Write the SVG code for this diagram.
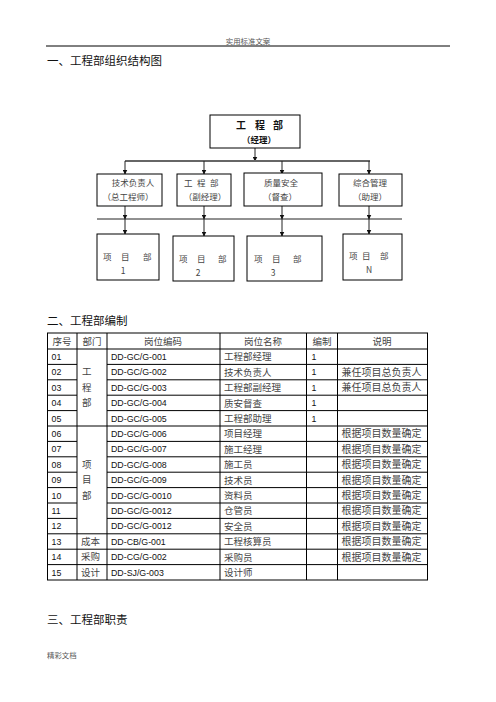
<svg xmlns="http://www.w3.org/2000/svg" width="496" height="702" viewBox="0 0 496 702">
<defs>
<style>
.cn{font-family:"Noto Sans CJK SC","Noto Sans",sans-serif;}
.hd{font-size:11.5px;fill:#111;}
.sm{font-size:7.4px;fill:#555;}
.box{fill:#fff;stroke:#000;stroke-width:1;}
.ob{font-size:8.5px;fill:#444;}
.tb{font-size:9.5px;fill:#444;}
.num{font-family:"Liberation Sans",Arial,sans-serif;font-size:8.8px;fill:#111;}
.con line{stroke:#222;stroke-width:1;}
.tl{stroke:#000;stroke-width:1;fill:none;}
</style>
<marker id="ar" viewBox="0 0 10 10" refX="9" refY="5" markerWidth="5" markerHeight="5" orient="auto">
<path d="M0,0 L10,5 L0,10 z" fill="#111"/>
</marker>
</defs>
<rect width="496" height="702" fill="#fff"/>

<g id="page-header">
<text class="cn sm" x="248" y="43.5" text-anchor="middle">实用标准文案</text>
<line x1="46" y1="46" x2="450" y2="46" stroke="#000" stroke-width="1"/>
<text class="cn hd" x="47" y="64.5">一、工程部组织结构图</text>
</g>

<g id="connectors" class="con">
<line x1="255" y1="148" x2="255" y2="161" marker-end="url(#ar)"/>
<line x1="125" y1="161" x2="370" y2="161" style="stroke:#666;stroke-width:2"/>
<line x1="125" y1="161" x2="125" y2="174" marker-end="url(#ar)"/>
<line x1="204" y1="161" x2="204" y2="174" marker-end="url(#ar)"/>
<line x1="282" y1="161" x2="282" y2="174" marker-end="url(#ar)"/>
<line x1="369" y1="161" x2="369" y2="174" marker-end="url(#ar)"/>
<line x1="97" y1="219" x2="402" y2="219"/>
<line x1="125" y1="206" x2="125" y2="219" marker-end="url(#ar)"/>
<line x1="204" y1="206" x2="204" y2="219" marker-end="url(#ar)"/>
<line x1="282" y1="206" x2="282" y2="219" marker-end="url(#ar)"/>
<line x1="369" y1="206" x2="369" y2="219" marker-end="url(#ar)"/>
<line x1="125" y1="219" x2="125" y2="234" marker-end="url(#ar)"/>
<line x1="204" y1="219" x2="204" y2="236" marker-end="url(#ar)"/>
<line x1="282" y1="219" x2="282" y2="236" marker-end="url(#ar)"/>
<line x1="369" y1="219" x2="369" y2="234" marker-end="url(#ar)"/>
</g>

<g id="node-top">
<rect class="box" x="210" y="115" width="90" height="33"/>
<text class="cn" font-size="10" font-weight="bold" fill="#111" x="236 255 273" y="129">工程部</text>
<text class="cn" font-size="8.5" font-weight="bold" fill="#111" x="259" y="142.5" text-anchor="middle">（经理）</text>
</g>

<g id="node-tech">
<rect class="box" x="97" y="174" width="65" height="32"/>
<text class="cn ob" x="133" y="186" text-anchor="middle">技术负责人</text>
<text class="cn ob" x="128" y="200" text-anchor="middle">（总工程师）</text>
</g>
<g id="node-vice">
<rect class="box" x="177" y="174" width="54" height="32"/>
<text class="cn ob" x="184 197 210" y="186">工程部</text>
<text class="cn ob" x="205" y="200" text-anchor="middle">（副经理）</text>
</g>
<g id="node-quality">
<rect class="box" x="244" y="173" width="78" height="33"/>
<text class="cn ob" x="281" y="185.5" text-anchor="middle">质量安全</text>
<text class="cn ob" x="280" y="199.5" text-anchor="middle">（督查）</text>
</g>
<g id="node-admin">
<rect class="box" x="339" y="174" width="63" height="32"/>
<text class="cn ob" x="370" y="186" text-anchor="middle">综合管理</text>
<text class="cn ob" x="370" y="200" text-anchor="middle">（助理）</text>
</g>

<g id="node-proj1">
<rect class="box" x="97" y="234" width="62" height="46"/>
<text class="cn ob" x="103 121 143" y="260">项目部</text>
<text class="cn ob" x="123" y="274" text-anchor="middle">1</text>
</g>
<g id="node-proj2">
<rect class="box" x="173" y="236" width="61" height="45"/>
<text class="cn ob" x="179 197 218" y="262">项目部</text>
<text class="cn ob" x="198" y="275.5" text-anchor="middle">2</text>
</g>
<g id="node-proj3">
<rect class="box" x="247" y="236" width="75" height="45"/>
<text class="cn ob" x="254 272 293" y="262">项目部</text>
<text class="cn ob" x="273" y="275.5" text-anchor="middle">3</text>
</g>
<g id="node-projN">
<rect class="box" x="343" y="234" width="59" height="46"/>
<text class="cn ob" x="349 362 380" y="259">项目部</text>
<text class="cn ob" x="369" y="273" text-anchor="middle">N</text>
</g>

<g id="section2">
<text class="cn hd" x="47" y="325">二、工程部编制</text>
</g>

<g id="table">
<rect class="tl" x="47.5" y="333" width="380" height="247"/>
<line class="tl" x1="77" y1="333" x2="77" y2="580"/>
<line class="tl" x1="107" y1="333" x2="107" y2="580"/>
<line class="tl" x1="220" y1="333" x2="220" y2="580"/>
<line class="tl" x1="306.5" y1="333" x2="306.5" y2="580"/>
<line class="tl" x1="337.5" y1="333" x2="337.5" y2="580"/>
<line class="tl" x1="47.5" y1="349" x2="427.5" y2="349"/>
<path class="tl" d="M47.5 364.4H77M107 364.4H427.5M47.5 379.8H77M107 379.8H427.5M47.5 395.2H77M107 395.2H427.5M47.5 410.6H77M107 410.6H427.5"/>
<line class="tl" x1="47.5" y1="426" x2="427.5" y2="426"/>
<path class="tl" d="M47.5 441.4H77M107 441.4H427.5M47.5 456.8H77M107 456.8H427.5M47.5 472.2H77M107 472.2H427.5M47.5 487.6H77M107 487.6H427.5M47.5 503H77M107 503H427.5M47.5 518.4H77M107 518.4H427.5"/>
<line class="tl" x1="47.5" y1="533.8" x2="427.5" y2="533.8"/>
<line class="tl" x1="47.5" y1="549.2" x2="427.5" y2="549.2"/>
<line class="tl" x1="47.5" y1="564.6" x2="427.5" y2="564.6"/>

<g class="cn tb" text-anchor="middle">
<text x="62" y="344.5">序号</text>
<text x="92" y="344.5">部门</text>
<text x="163" y="344.5">岗位编码</text>
<text x="263" y="344.5">岗位名称</text>
<text x="322" y="344.5">编制</text>
<text x="382" y="344.5">说明</text>
</g>

<g class="cn tb">
<text x="82" y="375.4">工</text>
<text x="82" y="390.8">程</text>
<text x="82" y="406.2">部</text>
<text x="82" y="467.8">项</text>
<text x="82" y="483.2">目</text>
<text x="82" y="498.6">部</text>
<text x="81" y="544.8">成本</text>
<text x="81" y="560.2">采购</text>
<text x="81" y="575.6">设计</text>
</g>

<g class="num">
<text x="51.5" y="360">01</text>
<text x="51.5" y="375.4">02</text>
<text x="51.5" y="390.8">03</text>
<text x="51.5" y="406.2">04</text>
<text x="51.5" y="421.6">05</text>
<text x="51.5" y="437">06</text>
<text x="51.5" y="452.4">07</text>
<text x="51.5" y="467.8">08</text>
<text x="51.5" y="483.2">09</text>
<text x="51.5" y="498.6">10</text>
<text x="51.5" y="514">11</text>
<text x="51.5" y="529.4">12</text>
<text x="51.5" y="544.8">13</text>
<text x="51.5" y="560.2">14</text>
<text x="51.5" y="575.6">15</text>

<text x="111" y="360">DD-GC/G-001</text>
<text x="111" y="375.4">DD-GC/G-002</text>
<text x="111" y="390.8">DD-GC/G-003</text>
<text x="111" y="406.2">DD-GC/G-004</text>
<text x="111" y="421.6">DD-GC/G-005</text>
<text x="111" y="437">DD-GC/G-006</text>
<text x="111" y="452.4">DD-GC/G-007</text>
<text x="111" y="467.8">DD-GC/G-008</text>
<text x="111" y="483.2">DD-GC/G-009</text>
<text x="111" y="498.6">DD-GC/G-0010</text>
<text x="111" y="514">DD-GC/G-0012</text>
<text x="111" y="529.4">DD-GC/G-0012</text>
<text x="111" y="544.8">DD-CB/G-001</text>
<text x="111" y="560.2">DD-CG/G-002</text>
<text x="111" y="575.6">DD-SJ/G-003</text>

<text x="311.5" y="360">1</text>
<text x="311.5" y="375.4">1</text>
<text x="311.5" y="390.8">1</text>
<text x="311.5" y="406.2">1</text>
<text x="311.5" y="421.6">1</text>
</g>

<g class="cn tb">
<text x="224" y="360.3">工程部经理</text>
<text x="224" y="375.7">技术负责人</text>
<text x="224" y="391.1">工程部副经理</text>
<text x="224" y="406.5">质安督查</text>
<text x="224" y="421.9">工程部助理</text>
<text x="224" y="437.3">项目经理</text>
<text x="224" y="452.7">施工经理</text>
<text x="224" y="468.1">施工员</text>
<text x="224" y="483.5">技术员</text>
<text x="224" y="498.9">资料员</text>
<text x="224" y="514.3">仓管员</text>
<text x="224" y="529.7">安全员</text>
<text x="224" y="545.1">工程核算员</text>
<text x="224" y="560.5">采购员</text>
<text x="224" y="575.9">设计师</text>

<text x="341.5" y="375.7" font-size="10">兼任项目总负责人</text>
<text x="341.5" y="391.1" font-size="10">兼任项目总负责人</text>
<text x="341.5" y="437.3" font-size="10">根据项目数量确定</text>
<text x="341.5" y="452.7" font-size="10">根据项目数量确定</text>
<text x="341.5" y="468.1" font-size="10">根据项目数量确定</text>
<text x="341.5" y="483.5" font-size="10">根据项目数量确定</text>
<text x="341.5" y="498.9" font-size="10">根据项目数量确定</text>
<text x="341.5" y="514.3" font-size="10">根据项目数量确定</text>
<text x="341.5" y="529.7" font-size="10">根据项目数量确定</text>
<text x="341.5" y="545.1" font-size="10">根据项目数量确定</text>
<text x="341.5" y="560.5" font-size="10">根据项目数量确定</text>
</g>
</g>

<g id="section3">
<text class="cn hd" x="47" y="624">三、工程部职责</text>
<text class="cn sm" x="47" y="658">精彩文档</text>
</g>
</svg>
